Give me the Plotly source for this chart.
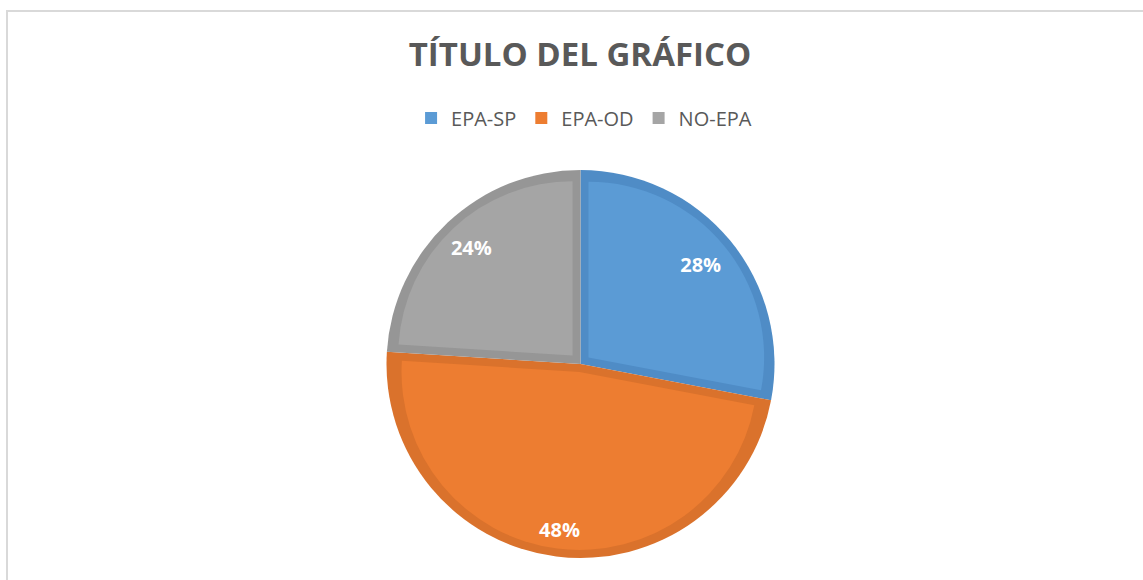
import numpy as np
import plotly.graph_objects as go

labels = ["EPA-SP", "EPA-OD", "NO-EPA"]
values = [28, 48, 24]
fill_colors = ["#5B9BD5", "#ED7D31", "#A5A5A5"]
rim_colors = ["#4F8CC6", "#DA722C", "#969696"]
label_r = [0.804, 0.862, 0.822]   # where Excel put each % label, as a fraction of the radius

W, H = 1143, 580
cx, cy, R = 580.5, 364, 194   # pie centre / radius in px
rim = 8                        # darker rim drawn inside every slice

total = sum(values)
frac = np.array(values) / total
half = np.pi * frac
pct_text = [f"{round(100 * v / total)}%" for v in values]
clear = "rgba(0,0,0,0)"


def domain(radius):
    return dict(x=[(cx - 300) / W, (cx + 300) / W],
                y=[1 - (cy + radius) / H, 1 - (cy - radius) / H])


common = dict(labels=labels, values=values, sort=False, direction="clockwise",
              rotation=0, showlegend=False, hoverinfo="skip")

fig = go.Figure()

# dark base pie = the rims
fig.add_trace(go.Pie(**common, domain=domain(R), textinfo="none",
                     marker=dict(colors=rim_colors, line=dict(width=0))))

# light inner part of each slice: same wedge pulled out so it sits `rim` px inside
for i in range(len(values)):
    s = rim / np.sin(half[i])
    pull = [0] * len(values)
    pull[i] = s / (R - rim - s)
    cols = [clear] * len(values)
    cols[i] = fill_colors[i]
    fig.add_trace(go.Pie(**common, domain=domain(R - rim), pull=pull, textinfo="none",
                         marker=dict(colors=cols, line=dict(width=0))))

# percentage labels, one donut per slice so the label sits at Excel's radius
for i in range(len(values)):
    txt = [""] * len(values)
    txt[i] = pct_text[i]
    hole = 1 - 2 * (1 - label_r[i])
    fig.add_trace(go.Pie(**common, domain=domain(R), hole=hole, text=txt,
                         textinfo="text", textposition="inside",
                         insidetextorientation="horizontal",
                         textfont=dict(family="Open Sans", size=20, color="white", weight="bold"),
                         marker=dict(colors=[clear] * len(values), line=dict(width=0))))

# legend entries
for lab, col in zip(labels, fill_colors):
    fig.add_trace(go.Scatter(x=[None], y=[None], mode="markers", name=lab,
                             marker=dict(symbol="square", size=12, color=col),
                             hoverinfo="skip"))

fig.update_layout(
    width=W, height=H,
    margin=dict(l=0, r=0, t=0, b=0),
    paper_bgcolor="white", plot_bgcolor="white",
    title=dict(text="TÍTULO DEL GRÁFICO", x=580 / W, xanchor="center",
               y=1 - 54 / H, yanchor="middle", yref="container",
               font=dict(family="Open Sans", size=33, color="#595959", weight="bold")),
    legend=dict(orientation="h", x=0.511, xanchor="center", y=1 - 118 / H, yanchor="middle",
                font=dict(family="Open Sans", size=20, color="#595959"),
                bgcolor="rgba(0,0,0,0)", itemclick=False),
    xaxis=dict(visible=False), yaxis=dict(visible=False),
    uniformtext=dict(mode="show", minsize=20),
    shapes=[dict(type="rect", xref="paper", yref="paper",
                 x0=7 / W, x1=1.05, y0=-0.05, y1=1 - 11 / H,
                 line=dict(color="#D9D9D9", width=2), layer="below")],
)

fig.write_html("out.html", config={"displayModeBar": False},
               post_script="document.body.style.margin='0';")
